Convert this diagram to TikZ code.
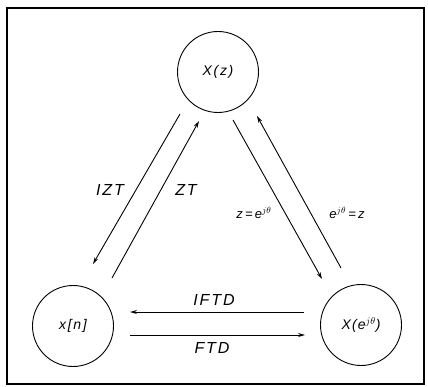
\documentclass[tikz,border=0pt]{standalone}
\usepackage{fontspec}
\setmainfont{Liberation Sans}
\usetikzlibrary{arrows.meta}
\begin{document}
\begin{tikzpicture}[x=1pt,y=-1pt,
  every node/.style={font=\itshape\addfontfeature{LetterSpace=12}},
  state/.style={circle,draw,line width=0.9pt,minimum size=81pt,inner sep=0pt},
  arr/.style={line width=0.9pt,-{Stealth[length=7pt,width=4pt]}},
  lbl/.style={font=\itshape\fontsize{16}{16}\selectfont\addfontfeature{LetterSpace=12}},
  slbl/.style={font=\itshape\fontsize{13}{13}\selectfont\addfontfeature{LetterSpace=6}}]
\useasboundingbox (0,0) rectangle (428,387);
\draw[line width=1.6pt] (7,8) rectangle (424,384);
\node[state,font=\itshape\fontsize{14}{14}\selectfont\addfontfeature{LetterSpace=12}] (top) at (218,72) {X(z)};
\node[state,font=\itshape\fontsize{14}{14}\selectfont\addfontfeature{LetterSpace=12}] (left) at (73,326) {x[n]};
\node[state,font=\itshape\fontsize{14}{14}\selectfont\addfontfeature{LetterSpace=8}] (right) at (361,325) {X(e$^{j\theta}$)};
% ends of connectors
\coordinate (izt1) at (180,114);
\coordinate (izt2) at (93,264);
\coordinate (zt1) at (112,278);
\coordinate (zt2) at (199,121);
\coordinate (zd1) at (233,120);
\coordinate (zd2) at (322,279);
\coordinate (ed1) at (341,268);
\coordinate (ed2) at (257,116);
\coordinate (if1) at (304,312);
\coordinate (if2) at (130,312);
\coordinate (ft1) at (130,335);
\coordinate (ft2) at (305,335);
\draw[arr] (izt1) -- (izt2);
\draw[arr] (zt1) -- (zt2);
\draw[arr] (zd1) -- (zd2);
\draw[arr] (ed1) -- (ed2);
\draw[arr] (if1) -- (if2);
\draw[arr] (ft1) -- (ft2);
\node[lbl] (lizt) at (110,190) {IZT};
\node[lbl] (lzt) at (186,190) {ZT};
\node[slbl] (lzd) at (254,213) {z\,=\,e$^{j\theta}$};
\node[slbl] (led) at (347,213) {e$^{j\theta}$\,=\,z};
\node[lbl] (lif) at (214,300) {IFTD};
\node[lbl] (lft) at (212,348) {FTD};
\end{tikzpicture}
\end{document}
